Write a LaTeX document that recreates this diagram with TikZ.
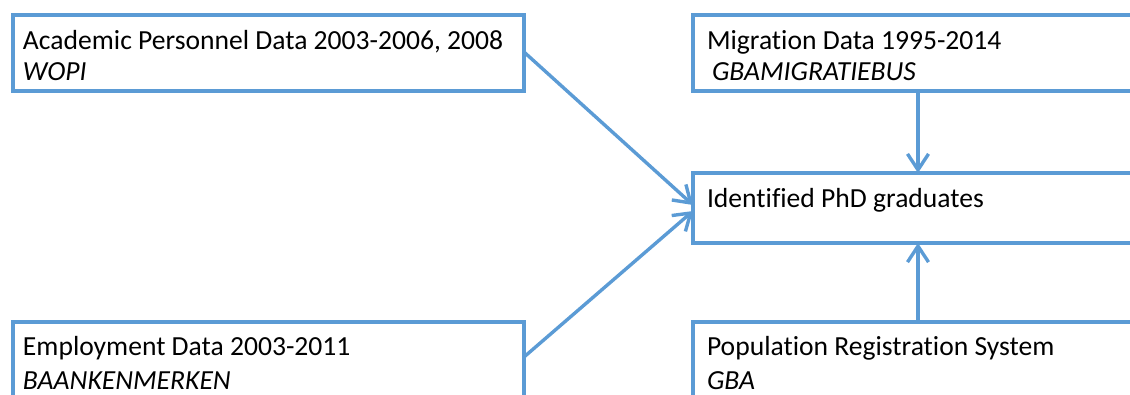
\documentclass[tikz,border=0pt]{standalone}
\usepackage{fontspec}
\setmainfont[Ligatures={NoCommon,NoRequired,NoContextual}]{Carlito}
\usetikzlibrary{arrows.meta}
\definecolor{boxblue}{RGB}{91,155,213}
\begin{document}
\begin{tikzpicture}[x=1pt,y=-1pt,
  box/.style={draw=boxblue, line width=3.4pt, rectangle, inner sep=0pt, outer sep=0pt, anchor=north west},
  txt/.style={inner sep=0pt, outer sep=0pt, anchor=base west, font=\fontsize{27.6pt}{32pt}\selectfont, text=black},
  itxt/.style={txt, font=\fontsize{27.6pt}{32pt}\selectfont\itshape},
  arr/.style={draw=boxblue, line width=3.4pt, -{Straight Barb[length=16pt,width=21pt,line width=3.4pt]}}]
\useasboundingbox (0,0) rectangle (1130,394);
\clip (0,0) rectangle (1130,394);
% boxes
\node[box, minimum width=511pt, minimum height=76pt] (A) at (13,15) {};
\node[box, minimum width=470pt, minimum height=76pt] (B) at (693,15) {};
\node[box, minimum width=470pt, minimum height=70pt] (M) at (693,173) {};
\node[box, minimum width=511pt, minimum height=110pt] (C) at (13,322) {};
\node[box, minimum width=470pt, minimum height=110pt] (D) at (693,322) {};
% texts
\node[txt] (A1) at (23,49) {Academic Personnel Data 2003-2006, 2008};
\node[itxt] (A2) at (23,80) {WOPI};
\node[txt] (B1) at (707,49) {Migration Data 1995-2014};
\node[itxt] (B2) at (712,80) {GBAMIGRATIEBUS};
\node[txt] (M1) at (707,207) {Identified PhD graduates};
\node[txt] (C1) at (23,355) {Employment Data 2003-2011};
\node[itxt] (C2) at (23,389) {BAANKENMERKEN};
\node[txt] (D1) at (707,355) {Population Registration System};
\node[itxt] (D2) at (707,389) {GBA};
% connectors
\draw[arr] ([yshift=-37pt]A.north east) -- ([yshift=-32pt]M.north west);
\draw[arr] ([yshift=-35pt]C.north east) -- ([yshift=-38pt]M.north west);
\draw[arr] ([xshift=225pt]B.south west) -- ([xshift=225pt]M.north west);
\draw[arr] ([xshift=225pt]D.north west) -- ([xshift=225pt]M.south west);
\end{tikzpicture}
\end{document}
